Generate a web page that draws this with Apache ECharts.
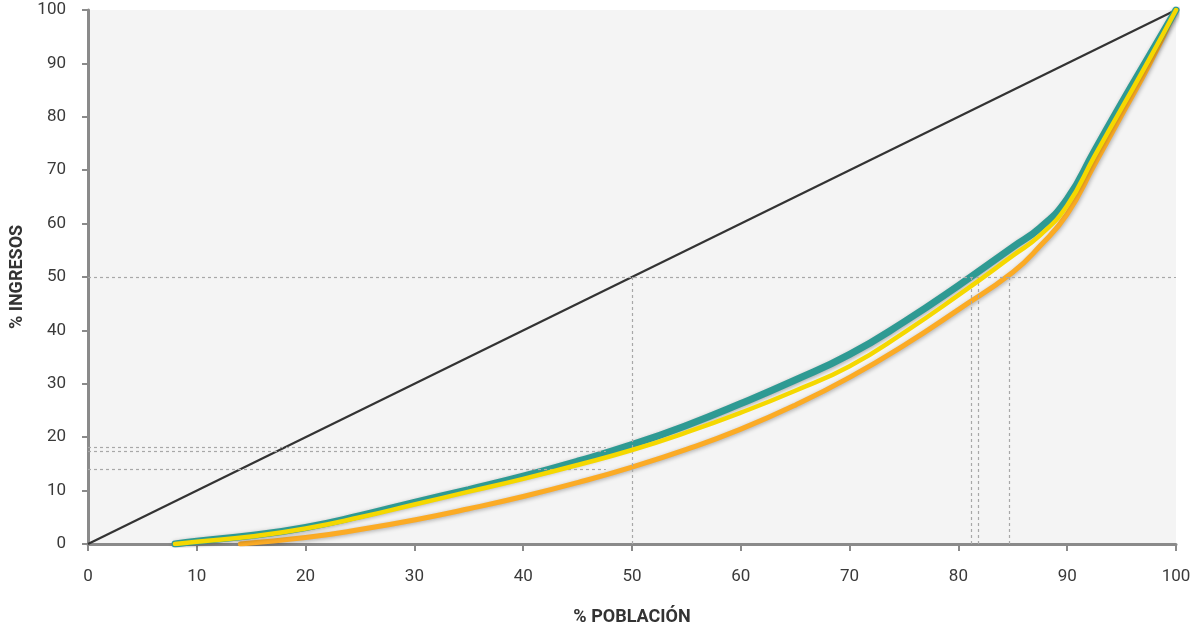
<!DOCTYPE html>
<html>
<head>
<meta charset="utf-8">
<script src="https://cdn.jsdelivr.net/npm/echarts@6/dist/echarts.min.js"></script>
<style>
html,body{margin:0;padding:0;background:#fff;overflow:hidden;}
#c{width:1200px;height:631px;}
</style>
</head>
<body>
<div id="c"></div>
<script>
// % población (x) and % ingresos (y)
var popA = [8,10,15,20,25,30,35,40,45,50,55,60,65,70,75,80,85,87.5,90,92.5,95,97.5,100];
var tealVals = [0,0.5,1.6,3.1,5.3,7.8,10.2,12.7,15.5,18.6,22.2,26.3,30.7,35.5,41.6,48.4,55.6,59.2,64.6,73.6,82.6,91.3,100];
var yellowVals = [0,0.4,1.4,2.9,5.0,7.4,9.8,12.2,14.8,17.6,20.9,24.6,28.7,33.3,39.6,46.6,54.0,57.8,63.4,72.6,81.6,90.6,100];
var popB = [14,15,20,25,30,35,40,45,50,55,60,65,70,75,80,85,87.5,90,92.5,95,97.5,100];
var orangeVals = [0,0.2,1.2,2.7,4.5,6.6,8.9,11.5,14.4,17.7,21.5,26.0,31.2,37.2,43.9,50.9,55.8,61.8,71.0,80.3,89.6,100];
var equalityX = [0,100];
var equalityY = [0,100];
// reference (dashed) lines
var incomeShareAt50 = [18.06,17.45,14.02];
var incomeShareEndX = 47.6;
var popAtHalfIncome = [81.2,81.8,84.7];
var half = 50;
var xTicks = [0,10,20,30,40,50,60,70,80,90,100];
var yTicks = [0,10,20,30,40,50,60,70,80,90,100];

function pairs(xs, ys){ return xs.map(function(x,i){ return [x, ys[i]]; }); }

var refLines = [];
incomeShareAt50.forEach(function(y){ refLines.push([{coord:[0,y]},{coord:[incomeShareEndX,y]}]); });
popAtHalfIncome.forEach(function(x){ refLines.push([{coord:[x,0]},{coord:[x,half]}]); });
refLines.push([{coord:[0,half]},{coord:[100,half]}]);
refLines.push([{coord:[half,0]},{coord:[half,half]}]);

var font = 'Roboto, "DejaVu Sans", sans-serif';
var shadow = {shadowBlur:4, shadowColor:'rgba(0,0,0,0.3)', shadowOffsetX:1, shadowOffsetY:1};

var chart = echarts.init(document.getElementById('c'), null, {renderer:'canvas', width:1200, height:631});
chart.setOption({
  animation:false,
  backgroundColor:'#ffffff',
  grid:{left:88, top:10, width:1088, height:537, show:true, backgroundColor:'#f4f4f4', borderWidth:0},
  xAxis:{
    type:'value', min:0, max:100, interval:10,
    name:'% POBLACIÓN', nameLocation:'middle', nameGap:64,
    nameTextStyle:{fontFamily:font, fontWeight:'bold', fontSize:18, color:'#333'},
    axisLine:{show:true, onZero:false, lineStyle:{color:'#8a8a8a', width:3}},
    axisTick:{show:true, length:7, lineStyle:{color:'#8a8a8a', width:2}},
    axisLabel:{margin:24, fontFamily:font, fontSize:17, color:'#3a3a3a',
      formatter:function(v){ return xTicks.indexOf(v) >= 0 ? String(v) : ''; }},
    splitLine:{show:false}
  },
  yAxis:{
    type:'value', min:0, max:100, interval:10,
    name:'% INGRESOS', nameLocation:'middle', nameGap:62, nameRotate:90,
    nameTextStyle:{fontFamily:font, fontWeight:'bold', fontSize:18, color:'#333'},
    axisLine:{show:true, onZero:false, lineStyle:{color:'#8a8a8a', width:3}},
    axisTick:{show:true, length:6, lineStyle:{color:'#8a8a8a', width:2}},
    axisLabel:{margin:22, fontFamily:font, fontSize:17, color:'#3a3a3a',
      formatter:function(v){ return yTicks.indexOf(v) >= 0 ? String(v) : ''; }},
    splitLine:{show:false}
  },
  series:[
    {type:'line', data:[], silent:true, z:1,
     markLine:{silent:true, symbol:['none','none'], label:{show:false},
       lineStyle:{color:'#a8a8a8', width:1.2, type:[3,3]}, data:refLines}},
    {type:'line', data:pairs(equalityX, equalityY), showSymbol:false, silent:true, z:2,
     lineStyle:{color:'#333333', width:2.2}},
    {type:'line', data:pairs(popB, orangeVals), showSymbol:false, smooth:0.5, silent:true, z:3,
     lineStyle:Object.assign({color:'#fbab25', width:5, cap:'round'}, shadow)},
    {type:'line', data:pairs(popA, tealVals), showSymbol:false, smooth:0.5, silent:true, z:4,
     lineStyle:Object.assign({color:'#2e9a93', width:7, cap:'round'}, shadow)},
    {type:'line', data:pairs(popA, yellowVals), showSymbol:false, smooth:0.5, silent:true, z:5,
     lineStyle:{color:'#f5d800', width:4.5, cap:'round'}}
  ]
});
</script>
</body>
</html>
